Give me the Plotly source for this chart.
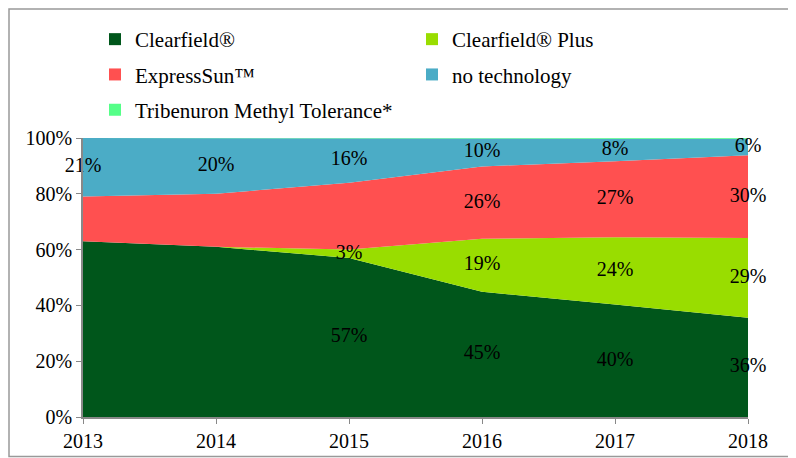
import plotly.graph_objects as go

years = [2013, 2014, 2015, 2016, 2017, 2018]
clearfield = [63, 61, 57, 45, 40, 36]
clearfield_plus = [0, 0, 3, 19, 24, 29]
expresssun = [16, 19, 24, 26, 27, 30]
no_technology = [21, 20, 16, 10, 8, 6]
tribenuron = [0, 0, 0, 0.2, 0.3, 0.3]
y_ticks = [0, 20, 40, 60, 80, 100]
y_tick_labels = ["0%", "20%", "40%", "60%", "80%", "100%"]

series = [
    ("Clearfield®", clearfield, "#00561B", [False, False, True, True, True, True], "legend"),
    ("Clearfield® Plus", clearfield_plus, "#99DD00", [False, False, True, True, True, True], "legend2"),
    ("ExpressSun™", expresssun, "#FF5050", [False, False, False, True, True, True], "legend"),
    ("no technology", no_technology, "#4BACC6", [True, True, True, True, True, True], "legend2"),
    ("Tribenuron Methyl Tolerance*", tribenuron, "#55FF88", [False] * 6, "legend"),
]

FONT = "Liberation Serif, Times New Roman, serif"

OX, OY = 8, 8  # page body margin offset
W, H = 796 - OX, 458 - OY

fig = go.Figure()

totals = [sum(s[1][i] for s in series) for i in range(len(years))]
cum = [0.0] * len(years)
for name, vals, color, show, leg in series:
    fig.add_trace(go.Scatter(
        x=years, y=vals, name=name, mode="lines", stackgroup="one", groupnorm="percent",
        line=dict(width=0, color=color), fillcolor=color, showlegend=False, hoverinfo="skip"))
    lx, ly, lt = [], [], []
    for i, v in enumerate(vals):
        pct = v / totals[i] * 100
        if show[i]:
            lx.append(years[i])
            ly.append(cum[i] + pct / 2)
            lt.append(f"{round(v)}%")
        cum[i] += pct
    if lx:
        fig.add_trace(go.Scatter(
            x=lx, y=ly, text=lt, mode="text", textposition="middle center",
            textfont=dict(family=FONT, size=20, color="black"),
            showlegend=False, cliponaxis=False, hoverinfo="skip"))

for i, (name, vals, color, show, leg) in enumerate(series):
    fig.add_trace(go.Scatter(
        x=[2013], y=[-50], mode="markers", name=name, legend=leg, legendgroup=name,
        marker=dict(symbol="square", size=11, color=color), hoverinfo="skip"))

legend_common = dict(
    xref="container", yref="container", yanchor="top", xanchor="left",
    font=dict(family=FONT, size=21, color="black"), bgcolor="rgba(0,0,0,0)",
    tracegroupgap=5, itemsizing="constant",
)
axis_font = dict(family=FONT, size=20, color="black")
pw, ph = 665, 279
fig.update_layout(
    width=W, height=H,
    margin=dict(l=83 - OX, r=W - (748 - OX), t=138 - OY, b=H - (417 - OY), autoexpand=False),
    paper_bgcolor="white", plot_bgcolor="white",
    font=dict(family=FONT, size=19, color="black"),
    legend=dict(x=(95 - OX) / W, y=1 - (19 - OY) / H, **legend_common),
    legend2=dict(x=(412 - OX) / W, y=1 - (19 - OY) / H, **legend_common),
    xaxis=dict(range=[2013, 2018], tickvals=years, ticktext=[str(y) for y in years],
               ticks="outside", ticklen=5, tickcolor="#888", showline=True, linecolor="#888",
               linewidth=1.5, showgrid=False, zeroline=False, tickfont=axis_font),
    yaxis=dict(range=[0, 100], tickvals=y_ticks, ticktext=y_tick_labels,
               ticks="outside", ticklen=5, tickcolor="#888", showline=True, linecolor="#888",
               linewidth=1.5, showgrid=False, zeroline=False, tickfont=axis_font),
    shapes=[dict(type="rect", xref="paper", yref="paper",
                 x0=(1 - (83 - OX)) / pw, x1=(830 - 83) / pw,
                 y0=(417 - 456.5) / ph, y1=(417 - 9) / ph,
                 line=dict(color="#999", width=1.5), fillcolor="rgba(0,0,0,0)", layer="below")],
)

fig.write_html("out.html", config={"displayModeBar": False})
